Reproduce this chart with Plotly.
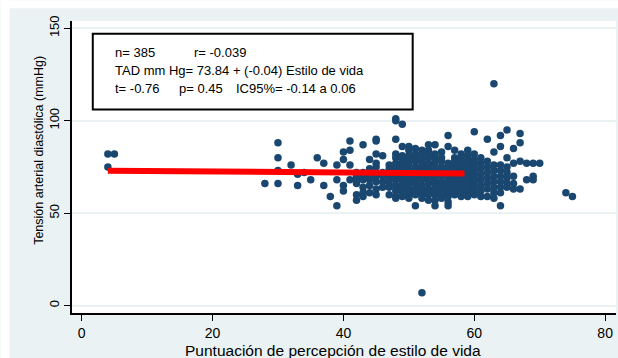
import plotly.graph_objects as go

# ---- data (x = lifestyle score, y = diastolic BP) ----
x_score = [
    4, 4, 5, 28, 30, 30, 30, 30, 32, 33, 33, 34, 35, 36, 37, 37, 38, 39, 39, 39,
    40, 40, 40, 40, 41, 41, 41, 41,
    42, 42, 42, 42, 42, 42,
    43, 43, 43, 43, 43, 43, 43,
    44, 44, 44, 44, 44, 44, 44,
    45, 45, 45, 45, 45, 45, 45, 45, 45,
    46, 46, 46, 46, 46,
    47, 47, 47, 47, 47, 47, 47, 47,
    48, 48, 48, 48, 48, 48, 48, 48, 48, 48, 48, 48, 48, 48, 48, 48,
    49, 49, 49, 49, 49, 49, 49, 49, 49, 49, 49, 49, 49, 49,
    50, 50, 50, 50, 50, 50, 50, 50, 50, 50, 50, 50, 50, 50, 50,
    51, 51, 51, 51, 51, 51, 51, 51, 51, 51, 51, 51, 51, 51,
    52, 52, 52, 52, 52, 52, 52, 52, 52, 52, 52, 52, 52, 52, 52,
    53, 53, 53, 53, 53, 53, 53, 53, 53, 53, 53, 53, 53, 53, 53,
    54, 54, 54, 54, 54, 54, 54, 54, 54, 54, 54, 54, 54, 54, 54,
    55, 55, 55, 55, 55, 55, 55, 55, 55, 55, 55, 55, 55,
    56, 56, 56, 56, 56, 56, 56, 56, 56, 56, 56, 56, 56, 56,
    57, 57, 57, 57, 57, 57, 57, 57, 57, 57, 57, 57,
    58, 58, 58, 58, 58, 58, 58, 58, 58, 58, 58, 58, 58,
    59, 59, 59, 59, 59, 59, 59, 59, 59, 59, 59, 59, 59,
    60, 60, 60, 60, 60, 60, 60, 60, 60, 60, 60, 60, 60,
    61, 61, 61, 61, 61, 61, 61, 61,
    62, 62, 62, 62, 62, 62, 62, 62,
    63, 63, 63, 63, 63, 63, 63, 63, 63,
    64, 64, 64, 64, 64, 64, 64, 64, 64,
    65, 65, 65, 65, 65, 65, 65,
    66, 66, 66, 66, 66,
    67, 67, 67, 67,
    68, 68,
    69, 69, 69,
    70, 74, 75,
]
y_tad = [
    82, 75, 82, 66, 88, 80, 73, 66, 76, 71, 65, 72, 68, 80, 77, 65, 59, 76, 68, 54,
    83, 79, 65, 62, 89, 84, 76, 68,
    57, 60, 66, 68, 70, 72,
    87, 72, 70, 68, 64, 61, 59,
    79, 74, 72, 70, 68, 65, 61,
    90, 89, 82, 77, 75, 70, 67, 63, 60,
    81, 72, 70, 67, 64,
    76, 74, 72, 70, 68, 66, 64, 60,
    101, 100, 90, 82, 80, 77, 75, 74, 71, 70, 68, 65, 64, 62, 59, 58,
    98, 86, 81, 79, 77, 75, 73, 71, 69, 67, 65, 63, 61, 59,
    86, 84, 81, 80, 78, 76, 73, 72, 70, 67, 66, 64, 62, 60, 58,
    85, 82, 80, 78, 75, 74, 72, 69, 68, 66, 63, 62, 60, 54,
    84, 82, 79, 78, 76, 74, 71, 70, 68, 65, 64, 62, 60, 58, 7,
    87, 84, 82, 80, 77, 76, 74, 72, 69, 68, 66, 63, 62, 60, 57,
    87, 82, 80, 78, 76, 73, 72, 70, 68, 66, 64, 61, 60, 57, 54,
    83, 80, 78, 75, 74, 72, 70, 67, 66, 64, 62, 60, 58,
    92, 86, 77, 75, 73, 71, 69, 67, 65, 63, 61, 59, 56, 54,
    84, 80, 78, 76, 74, 72, 70, 68, 66, 64, 62, 60,
    82, 80, 78, 76, 74, 72, 70, 68, 66, 64, 62, 60, 59,
    84, 81, 79, 77, 75, 73, 71, 69, 67, 65, 63, 61, 59,
    94, 82, 79, 77, 75, 73, 71, 69, 67, 65, 63, 61, 60,
    80, 77, 74, 71, 68, 65, 62, 59,
    90, 78, 75, 72, 69, 66, 63, 59,
    120, 83, 76, 73, 70, 67, 64, 61, 58,
    92, 86, 76, 73, 70, 67, 64, 61, 54,
    95, 80, 75, 72, 69, 66, 64,
    85, 77, 70, 66, 63,
    93, 88, 78, 63,
    77, 68,
    77, 70, 68,
    77, 61, 59,
]
assert len(x_score) == len(y_tad)

fit_x = [4, 58.5]
fit_y = [72.9, 71.5]

x_ticks = [0, 20, 40, 60, 80]
y_ticks = [0, 50, 100, 150]

stats_row1 = ["n= 385", "r= -0.039"]
stats_row2 = ["TAD mm Hg= 73.84 + (-0.04) Estilo de vida"]
stats_row3 = ["t= -0.76", "p= 0.45", "IC95%= -0.14 a 0.06"]

x_title = "Puntuación de percepción de estilo de vida"
y_title = "Tensión arterial diastólica (mmHg)"

# ---- layout geometry (page pixels; body margin removed via post_script) ----
W, H = 618, 358
L, R, T, B = 71.5, 2, 20.7, 45.3
PW, PH = W - L - R, H - T - B


def px(x):  # page pixel -> paper
    return (x - L) / PW


def py(y):
    return (H - B - y) / PH


FONT = "Liberation Sans, Arial, sans-serif"
NAVY = "#1a476f"
BG = "#eaf2f3"

fig = go.Figure()
fig.add_trace(go.Scatter(
    x=x_score, y=y_tad, mode="markers",
    marker=dict(color=NAVY, size=7.5, line=dict(width=0)),
    showlegend=False, hoverinfo="x+y",
))
fig.add_trace(go.Scatter(
    x=fit_x, y=fit_y, mode="lines",
    line=dict(color="#ff0000", width=6),
    showlegend=False, hoverinfo="skip",
))

shapes = [
    # white outer border (left and top)
    dict(type="rect", xref="paper", yref="paper", x0=px(0), x1=px(9), y0=py(H), y1=py(0),
         fillcolor="white", line=dict(width=0), layer="below"),
    dict(type="rect", xref="paper", yref="paper", x0=px(0), x1=px(W), y0=py(8), y1=py(0),
         fillcolor="white", line=dict(width=0), layer="below"),
    # stats box
    dict(type="rect", xref="paper", yref="paper", x0=px(92.3), x1=px(412.5), y0=py(109.3), y1=py(33.5),
         fillcolor="white", line=dict(color="black", width=2), layer="above"),
]

annotations = []


def txt(s, x, y, size=13, anchor="left", angle=0):
    annotations.append(dict(
        text=s, x=px(x), y=py(y), xref="paper", yref="paper",
        xanchor=anchor, yanchor="middle", showarrow=False, textangle=angle,
        font=dict(family=FONT, size=size, color="black"),
    ))


txt(stats_row1[0], 112.7, 52.3)
txt(stats_row1[1], 192, 52.3)
txt(stats_row2[0], 112.7, 70.3)
txt(stats_row3[0], 112.7, 88.3)
txt(stats_row3[1], 177, 88.3)
txt(stats_row3[2], 233.3, 88.3)
txt(x_title, 333, 350, size=15.5, anchor="center")
txt(y_title, 39, 150, size=12.5, anchor="center", angle=-90)

fig.update_layout(
    width=W, height=H,
    margin=dict(l=L, r=R, t=T, b=B, pad=0),
    paper_bgcolor=BG, plot_bgcolor="white",
    font=dict(family=FONT, color="black"),
    shapes=shapes, annotations=annotations,
    xaxis=dict(
        range=[-1.48, 81.66], tickvals=x_ticks, showgrid=False, zeroline=False,
        showline=True, linecolor="black", linewidth=1.5,
        ticks="outside", ticklen=6, tickcolor="black", tickwidth=1,
        tickfont=dict(size=14, family=FONT, color="black"),
    ),
    yaxis=dict(
        range=[-4.0, 153.9], tickvals=y_ticks, showgrid=True, gridcolor=BG, gridwidth=1.5,
        zeroline=False, showline=True, linecolor="black", linewidth=1.5,
        ticks="outside", ticklen=6, tickcolor="black", tickwidth=1, tickangle=-90,
        tickfont=dict(size=13, family=FONT, color="black"),
    ),
)

fig.write_html(
    "out.html",
    config={"displayModeBar": False},
    post_script="document.body.style.margin='0';document.body.style.overflow='hidden';",
)
